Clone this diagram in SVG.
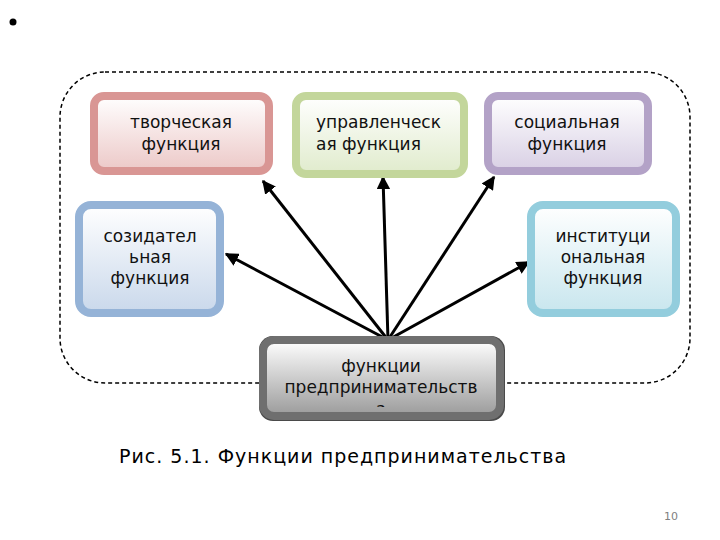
<svg xmlns="http://www.w3.org/2000/svg" width="720" height="540" viewBox="0 0 720 540">
<defs>
<linearGradient id="gPink" x1="0" y1="0" x2="0" y2="1"><stop offset="0" stop-color="#ffffff"/><stop offset="1" stop-color="#ecc8c7"/></linearGradient>
<linearGradient id="gGreen" x1="0" y1="0" x2="0" y2="1"><stop offset="0" stop-color="#ffffff"/><stop offset="1" stop-color="#e0ebcc"/></linearGradient>
<linearGradient id="gPurple" x1="0" y1="0" x2="0" y2="1"><stop offset="0" stop-color="#ffffff"/><stop offset="1" stop-color="#d8cfe4"/></linearGradient>
<linearGradient id="gBlue" x1="0" y1="0" x2="0" y2="1"><stop offset="0" stop-color="#ffffff"/><stop offset="1" stop-color="#c9d8eb"/></linearGradient>
<linearGradient id="gTeal" x1="0" y1="0" x2="0" y2="1"><stop offset="0" stop-color="#ffffff"/><stop offset="1" stop-color="#c8e6ee"/></linearGradient>
<linearGradient id="gGray" x1="0" y1="0" x2="0" y2="1"><stop offset="0" stop-color="#ffffff"/><stop offset="1" stop-color="#9a9a9a"/></linearGradient>
<marker id="ah" viewBox="0 0 10 10" refX="9" refY="5" markerWidth="4.5" markerHeight="4.5" orient="auto" markerUnits="strokeWidth"><path d="M0,0 L10,5 L0,10 z" fill="#000"/></marker>
<clipPath id="clipMain"><rect x="262" y="340" width="240" height="67"/></clipPath>
</defs>
<style>
.t{font-family:"DejaVu Sans",Verdana,sans-serif;font-size:17px;fill:#111}
.c{text-anchor:middle}
.box{stroke-width:8}
.conn line{stroke:#000;stroke-width:3;marker-end:url(#ah)}
</style>
<rect width="720" height="540" fill="#ffffff"/>
<circle cx="13" cy="22" r="3.5" fill="#000"/>
<rect x="60" y="72" width="630" height="311" rx="45" fill="none" stroke="#000" stroke-width="1.5" stroke-dasharray="4 3"/>
<g id="connectors" class="conn">
<line x1="388" y1="340" x2="263" y2="181"/>
<line x1="388" y1="340" x2="383" y2="177"/>
<line x1="388" y1="340" x2="494" y2="177"/>
<line x1="388" y1="340" x2="226" y2="254"/>
<line x1="388" y1="340" x2="529" y2="262"/>
</g>
<g id="n-tvorch">
<rect class="box" x="94" y="96" width="175" height="75" rx="10" fill="url(#gPink)" stroke="#d99694"/>
<text class="t c" x="181" y="128">творческая</text>
<text class="t c" x="181" y="150">функция</text>
</g>
<g id="n-upr">
<rect class="box" x="296" y="96" width="168" height="78" rx="10" fill="url(#gGreen)" stroke="#c3d69b"/>
<text class="t" x="316" y="128">управленческ</text>
<text class="t" x="316" y="150">ая функция</text>
</g>
<g id="n-soc">
<rect class="box" x="488" y="96" width="160" height="75" rx="10" fill="url(#gPurple)" stroke="#b3a2c7"/>
<text class="t c" x="567" y="128">социальная</text>
<text class="t c" x="567" y="150">функция</text>
</g>
<g id="n-soz">
<rect class="box" x="79" y="205" width="141" height="108" rx="12" fill="url(#gBlue)" stroke="#95b3d7"/>
<text class="t c" x="150" y="242">созидател</text>
<text class="t c" x="150" y="263">ьная</text>
<text class="t c" x="150" y="284">функция</text>
</g>
<g id="n-inst">
<rect class="box" x="531" y="205" width="145" height="108" rx="12" fill="url(#gTeal)" stroke="#93cddd"/>
<text class="t c" x="603" y="242">институци</text>
<text class="t c" x="603" y="263">ональная</text>
<text class="t c" x="603" y="284">функция</text>
</g>
<g id="n-main">
<rect x="259" y="336" width="246" height="85" rx="14" fill="#4a4a4a"/>
<rect class="box" x="263" y="340" width="237" height="76" rx="11" fill="url(#gGray)" stroke="#6f6f6f"/>
<g clip-path="url(#clipMain)">
<text class="t c" x="381" y="372">функции</text>
<text class="t c" x="381" y="393">предпринимательств</text>
<text class="t c" x="381" y="415">а</text>
</g>
</g>
<text x="119" y="463" style="font-family:'DejaVu Sans',Verdana,sans-serif;font-size:19px;fill:#000;letter-spacing:1px">Рис. 5.1. Функции предпринимательства</text>
<text x="664" y="520" style="font-family:'DejaVu Sans',sans-serif;font-size:11px;fill:#7f7f7f">10</text>
</svg>
